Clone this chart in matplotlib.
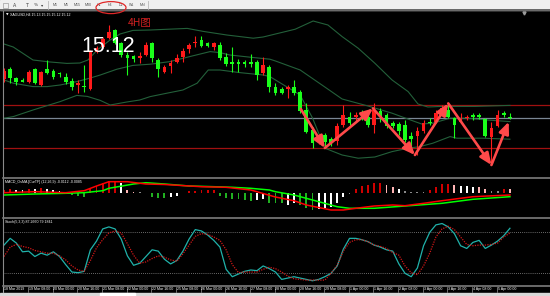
import matplotlib
matplotlib.use('Agg')
import matplotlib.pyplot as plt
from matplotlib.patches import Rectangle, Ellipse
import numpy as np

# ---- candles (H4, 18 Mar 2019 .. 5 Apr 2019), red = up, green = down ----
opens = [15.314, 15.365, 15.321, 15.310, 15.301, 15.365, 15.285, 15.363, 15.355, 15.343,
         15.326, 15.306, 15.285, 15.280, 15.263, 15.451, 15.476, 15.518, 15.560, 15.493,
         15.435, 15.430, 15.421, 15.435, 15.493, 15.410, 15.351, 15.381, 15.401, 15.426,
         15.463, 15.493, 15.510, 15.493, 15.473, 15.485, 15.426, 15.400, 15.400, 15.400,
         15.400, 15.398, 15.343, 15.376, 15.273, 15.265, 15.265, 15.273, 15.251, 15.160,
         15.060, 15.001, 15.035, 15.013, 15.006, 15.085, 15.123, 15.123, 15.146, 15.123,
         15.085, 15.156, 15.135, 15.093, 15.090, 15.085, 15.030, 15.030, 15.056, 15.101,
         15.101, 15.146, 15.160, 15.118, 15.101, 15.118, 15.135, 15.135, 15.113, 15.023,
         15.080, 15.146, 15.123]
highs = [15.370, 15.375, 15.326, 15.318, 15.360, 15.371, 15.356, 15.410, 15.363, 15.348,
         15.343, 15.318, 15.310, 15.385, 15.460, 15.480, 15.525, 15.585, 15.565, 15.500,
         15.450, 15.435, 15.451, 15.501, 15.501, 15.418, 15.385, 15.410, 15.440, 15.468,
         15.493, 15.530, 15.530, 15.498, 15.501, 15.501, 15.443, 15.476, 15.413, 15.410,
         15.440, 15.410, 15.426, 15.385, 15.296, 15.275, 15.285, 15.310, 15.260, 15.193,
         15.076, 15.040, 15.043, 15.025, 15.093, 15.185, 15.151, 15.151, 15.160, 15.160,
         15.193, 15.168, 15.143, 15.105, 15.101, 15.110, 15.051, 15.076, 15.110, 15.118,
         15.160, 15.185, 15.193, 15.126, 15.143, 15.135, 15.146, 15.146, 15.118, 15.101,
         15.160, 15.155, 15.143]
lows = [15.300, 15.295, 15.285, 15.298, 15.296, 15.290, 15.280, 15.340, 15.313, 15.326,
        15.290, 15.260, 15.243, 15.251, 15.260, 15.445, 15.470, 15.513, 15.490, 15.425,
        15.335, 15.400, 15.393, 15.430, 15.401, 15.326, 15.343, 15.343, 15.393, 15.401,
        15.446, 15.476, 15.476, 15.475, 15.460, 15.410, 15.380, 15.351, 15.351, 15.376,
        15.376, 15.310, 15.335, 15.251, 15.235, 15.240, 15.218, 15.235, 15.143, 15.043,
        14.968, 14.990, 14.968, 14.980, 14.985, 15.076, 15.085, 15.101, 15.110, 15.076,
        15.043, 15.101, 15.068, 15.068, 15.035, 15.001, 14.968, 14.935, 15.043, 15.085,
        15.093, 15.143, 15.120, 15.018, 15.093, 15.110, 15.110, 15.113, 15.023, 14.885,
        15.076, 15.126, 15.115]
closes = [15.356, 15.318, 15.301, 15.301, 15.351, 15.293, 15.351, 15.343, 15.326, 15.338,
          15.298, 15.273, 15.296, 15.273, 15.451, 15.468, 15.513, 15.551, 15.493, 15.435,
          15.418, 15.413, 15.430, 15.485, 15.421, 15.363, 15.376, 15.393, 15.421, 15.456,
          15.485, 15.501, 15.481, 15.481, 15.493, 15.418, 15.390, 15.391, 15.391, 15.391,
          15.391, 15.335, 15.385, 15.277, 15.243, 15.246, 15.273, 15.243, 15.156, 15.051,
          14.996, 15.026, 15.001, 14.996, 15.080, 15.135, 15.093, 15.135, 15.135, 15.085,
          15.160, 15.126, 15.080, 15.080, 15.056, 15.010, 15.013, 15.055, 15.093, 15.093,
          15.146, 15.170, 15.123, 15.085, 15.110, 15.126, 15.126, 15.126, 15.030, 15.068,
          15.135, 15.135, 15.118]

time_labels = ['18 Mar 2019', '19 Mar 08:00', '20 Mar 00:00', '20 Mar 16:00', '21 Mar 08:00',
               '22 Mar 00:00', '22 Mar 16:00', '25 Mar 08:00', '26 Mar 00:00', '26 Mar 16:00',
               '27 Mar 08:00', '28 Mar 00:00', '28 Mar 16:00', '29 Mar 08:00', '1 Apr 00:00',
               '1 Apr 16:00', '2 Apr 08:00', '3 Apr 00:00', '3 Apr 16:00', '4 Apr 08:00',
               '5 Apr 00:00']

# Bollinger bands (bar index, price)
bb_up_idx = [0, 1.5, 4.7, 7.5, 10.2, 12.3, 13.6, 15.1, 17.2, 18.8, 20.9, 23.7, 29.7, 32.3, 36.1,
             40.4, 42, 44, 47.2, 50.1, 52.5, 54.8, 57.4, 60.1, 62.9, 65.5, 67.1, 68.7, 71, 76.3, 82]
bb_up = [15.490, 15.475, 15.410, 15.400, 15.393, 15.395, 15.410, 15.460, 15.510, 15.540, 15.558,
         15.560, 15.568, 15.553, 15.535, 15.519, 15.525, 15.540, 15.564, 15.605, 15.585, 15.527,
         15.469, 15.394, 15.310, 15.252, 15.190, 15.175, 15.178, 15.178, 15.183]
bb_mid_idx = [0, 1.5, 4.7, 7, 9.1, 11.8, 13.9, 15.6, 18.3, 20.9, 23.7, 26.9, 30.1, 33.4, 35, 36.6,
              39.9, 43.1, 44, 48, 52, 54.8, 59, 62.9, 66.6, 67.7, 69.5, 72.3, 75, 78.3, 82]
bb_mid = [15.310, 15.294, 15.277, 15.277, 15.285, 15.302, 15.319, 15.335, 15.364, 15.383, 15.389,
          15.402, 15.427, 15.452, 15.447, 15.435, 15.424, 15.414, 15.405, 15.360, 15.275, 15.215,
          15.180, 15.144, 15.102, 15.090, 15.094, 15.119, 15.119, 15.110, 15.102]
bb_low_idx = [0, 1.5, 4.7, 9.1, 11.8, 13.5, 15.6, 17.2, 19.9, 22, 23.7, 26.4, 29, 31.3, 33.1, 35,
              38.2, 42, 43.1, 48, 50, 52, 54.8, 57.4, 60.1, 62.9, 65.5, 67.4, 69.5, 72.3, 73.4,
              77.6, 82]
bb_low = [15.119, 15.127, 15.160, 15.202, 15.233, 15.228, 15.208, 15.185, 15.200, 15.210, 15.227,
          15.244, 15.260, 15.294, 15.360, 15.360, 15.347, 15.335, 15.327, 15.235, 15.120, 14.969,
          14.935, 14.919, 14.925, 14.952, 14.969, 14.977, 14.994, 15.027, 15.019, 15.019, 15.014]

# hand drawn levels and zigzag arrows
resist_level = 15.185
support_level = 14.970
bid_price = 15.12
zigzag_idx = [48.1, 52.0, 59.8, 66.6, 72.0, 79.0, 81.8]
zigzag_price = [15.165, 14.970, 15.168, 14.935, 15.193, 14.885, 15.101]

# MACD_OsMA pane
osma = [0.0060, 0.0066, 0.0054, 0.0054, 0.0066, 0.0066, 0.0086, 0.0066, 0.0054, 0.0040,
        0.0020, -0.0046, -0.0066, -0.0080, 0.0066, 0.0134, 0.0200, 0.0240, 0.0240, 0.0200,
        0.0054, 0.0020, 0.0014, -0.0010, -0.0080, -0.0114, -0.0114, -0.0094, -0.0066, -0.0014,
        0.0040, 0.0030, 0.0054, 0.0050, 0.0050, -0.0066, -0.0114, -0.0134, -0.0134, -0.0146,
        -0.0160, -0.0146, -0.0134, -0.0214, -0.0214, -0.0214, -0.0246, -0.0214, -0.0246, -0.0314,
        -0.0346, -0.0334, -0.0314, -0.0280, -0.0214, -0.0080, -0.0026, 0.0074, 0.0134, 0.0154,
        0.0186, 0.0200, 0.0154, 0.0106, 0.0066, 0.0034, 0.0020, 0.0014, 0.0014, 0.0054,
        0.0120, 0.0174, 0.0174, 0.0154, 0.0134, 0.0134, 0.0120, 0.0106, 0.0066, 0.0040,
        0.0034, 0.0066, 0.0066]
osma_state = list('RRWWRWRWWWPGGGRRRRRWPPNNGGGWWNRRRRRGGGGGGWWGGGWWGGGWWWWWNRRRRRPPWNNNNRRRRPWWWPPNNRP')
macd_green_idx = [0, 5, 10, 13, 16, 17, 21, 23, 26, 30, 34, 37, 40, 43, 44, 47, 50, 54, 56, 60,
                  65, 71, 76, 82]
macd_green = [-0.0046, -0.0026, -0.0012, 0.0, 0.0040, 0.0088, 0.0174, 0.0200, 0.0174, 0.0134,
              0.0120, 0.0108, 0.0088, 0.0054, 0.0020, -0.0046, -0.0146, -0.0280, -0.0312, -0.0312,
              -0.0266, -0.0212, -0.0132, -0.0080]
macd_red_idx = [0, 5, 10, 13, 15, 17, 20, 23, 26, 32, 36, 40, 44, 47, 49, 53, 55, 57, 60, 63,
                65, 68, 71, 74, 76, 82]
macd_red = [0.0, 0.0020, 0.0, 0.0040, 0.0134, 0.0220, 0.0220, 0.0174, 0.0164, 0.0120, 0.0108,
            0.0054, -0.0086, -0.0160, -0.0246, -0.0346, -0.0346, -0.0312, -0.0266, -0.0246,
            -0.0260, -0.0212, -0.0160, -0.0112, -0.0080, -0.0046]

# Stochastic pane
stoch_main = [61, 71, 64, 51, 52, 44, 49, 46, 51, 44, 32, 21, 20, 22, 54, 67, 85, 88, 85, 70,
              45, 31, 34, 44, 54, 52, 40, 33, 38, 52, 70, 84, 82, 76, 68, 58, 25, 14, 18, 22,
              24, 23, 30, 26, 21, 10, 12, 14, 12, 10, 8, 10, 14, 19, 30, 55, 71, 71, 69, 66,
              61, 58, 54, 52, 33, 19, 14, 27, 60, 80, 91, 93, 88, 78, 60, 56, 65, 68, 56, 61,
              67, 75, 86]
stoch_signal = [44, 58, 62, 59, 57, 53, 51, 49, 49, 45, 39, 30, 24, 22, 38, 57, 69, 79, 82, 79,
                63, 46, 34, 36, 41, 45, 43, 39, 37, 48, 61, 74, 78, 77, 73, 68, 54, 32, 20, 21,
                21, 21, 25, 28, 26, 21, 15, 11, 10, 9, 9, 9, 9, 19, 31, 52, 65, 69, 69, 66,
                61, 59, 56, 50, 46, 30, 20, 17, 30, 49, 73, 85, 89, 84, 73, 62, 60, 61, 61, 62,
                64, 73, 79]

tf_buttons = ['M1', 'M5', 'M15', 'M30', 'H1', 'H4', 'D1', 'W1', 'MN']

W, H = 550, 296
fig = plt.figure(figsize=(5.5, 2.96), dpi=100, facecolor='black')
small = dict(fontsize=2.6, family=['Liberation Sans', 'DejaVu Sans'])


def rect(x0, y0, x1, y1):
    # pixel box (top-left origin) -> figure fraction
    return [x0 / W, 1 - y1 / H, (x1 - x0) / W, (y1 - y0) / H]


# bar i sits at pixel 4 + 6.17*i, axes start at pixel 3 and end at 550
step = 6.17
xlim = (-1 / step, 546 / step)
idx = np.arange(len(opens))

# ---- main chart ----
ax = fig.add_axes(rect(3, 11, 550, 176.5))
ax.set_facecolor('black')
ax.set_xlim(*xlim)
ax.set_ylim(14.8275, 15.655)
ax.axis('off')

ax.axhline(resist_level, color='#a01010', lw=0.9)
ax.axhline(support_level, color='#a01010', lw=0.9)
ax.axhline(bid_price, color='#7a8694', lw=0.9)

band_col = '#23603a'
ax.plot(bb_up_idx, bb_up, color=band_col, lw=0.8)
ax.plot(bb_mid_idx, bb_mid, color=band_col, lw=0.8)
ax.plot(bb_low_idx, bb_low, color=band_col, lw=0.8)

o = np.array(opens)
c = np.array(closes)
up = c >= o
cols = np.where(up, '#ff1a1a', '#1aff1a')
ax.vlines(idx, lows, highs, colors=cols, lw=0.8, zorder=3)
body = np.maximum(np.abs(c - o), 0.0015)
ax.bar(idx, body, bottom=np.minimum(o, c), width=0.6, color=cols, zorder=4)

for k in range(len(zigzag_idx) - 1):
    ax.annotate('', xy=(zigzag_idx[k + 1], zigzag_price[k + 1]),
                xytext=(zigzag_idx[k], zigzag_price[k]),
                arrowprops=dict(arrowstyle='-|>,head_length=0.7,head_width=0.3',
                                color='#ff4a4a', lw=1.9, shrinkA=0, shrinkB=0),
                zorder=6)

# ---- MACD_OsMA ----
am = fig.add_axes(rect(3, 178.5, 550, 217))
am.set_facecolor('black')
am.set_xlim(*xlim)
am.set_ylim(-0.0486, 0.0284)
am.axis('off')
state_col = {'R': '#d00000', 'W': '#ffffff', 'P': '#ffb4b4', 'G': '#20b020', 'N': '#8a8a8a'}
am.bar(idx, osma, width=0.3, color=[state_col[s] for s in osma_state])
am.plot(macd_green_idx, macd_green, color='#00ff00', lw=1.1)
am.plot(macd_red_idx, macd_red, color='#ff0000', lw=1.1)

# ---- Stochastic ----
ast = fig.add_axes(rect(3, 219.5, 550, 285))
ast.set_facecolor('black')
ast.set_xlim(*xlim)
ast.set_ylim(1.7, 99.0)
ast.axis('off')
ast.axhline(80, color='#8c8c8c', lw=0.6, ls=(0, (1, 1.5)))
ast.axhline(20, color='#8c8c8c', lw=0.6, ls=(0, (1, 1.5)))
ast.plot(idx, stoch_main, color='#20b2aa', lw=0.9)
ast.plot(idx, stoch_signal, color='#d01818', lw=0.9, ls=(0, (1, 1)))

# ---- window chrome in pixel coordinates ----
ov = fig.add_axes([0, 0, 1, 1], facecolor='none')
ov.set_xlim(0, W)
ov.set_ylim(H, 0)
ov.axis('off')

# toolbar
ov.add_patch(Rectangle((0, 0), W, 10, color='#f0f0f0', zorder=1))
ov.plot([0, W], [10.3, 10.3], color='#505050', lw=1.2)
for xx in [48, 148]:
    ov.plot([xx, xx], [1, 9], color='#b8b8b8', lw=0.6)
ov.add_patch(Rectangle((3, 2.5), 5, 5, fill=False, ec='#8a8a8a', lw=0.4))
ov.text(15, 5.5, 'A', fontsize=3.4, color='#404040', ha='center', va='center')
ov.text(27, 5.5, 'T', fontsize=3.4, color='#404040', ha='center', va='center')
ov.text(36, 5.5, '%', fontsize=3.2, color='#404040', ha='center', va='center')
ov.text(42, 5.5, '▾', fontsize=3.2, color='#404040', ha='center', va='center')
for k, lab in enumerate(tf_buttons):
    ov.text(55 + 11 * k, 5.5, lab, color='#505050', ha='center', va='center', **small)
ov.add_patch(Ellipse((111, 7.6), 30, 12, fill=False, ec='#e02828', lw=0.9, zorder=5))

# pane borders
ov.plot([2.8, 2.8], [11, 292], color='#8a8a8a', lw=0.8)
for yy in [177.5, 218.3, 285.8]:
    ov.plot([3, W], [yy, yy], color='#7c7c7c', lw=1.2)

# titles
ov.text(7, 14.2, '▼', fontsize=2.4, color='white', ha='center', va='center')
ov.text(9.5, 14.2, 'XAGUSD,H4 15.13 15.15 15.12 15.12', color='white', va='center', **small)
ov.text(5, 181.8, 'MACD_OsMA [CurTF] (12,26,9) -0.0112 -0.0085', color='white',
        va='center', **small)
ov.text(5, 221.8, 'Stoch(5,3,3) 87.2660 79.1841', color='white', va='center', **small)
ov.plot([524], [12.5], marker='v', color='#9a9a9a', ms=2.2)

# annotations written on the chart
ov.text(81, 46.5, '15.12', fontsize=15.5, color='white', va='center', family='Liberation Sans')
ov.text(128, 23, '4H图', fontsize=7.5, color='#d02020', va='center',
        family=['Noto Sans CJK SC', 'DejaVu Sans'])

# time axis
for k, lab in enumerate(time_labels):
    px = 4 + step * 4 * k
    ov.plot([px - 0.8, px - 0.8], [286.5, 291.5], color='#bdbdbd', lw=0.4)
    ov.text(px, 289.2, lab, color='white', va='center', **small)

# bottom strip with sheet tab
ov.add_patch(Rectangle((0, 292.5), W, 4, color='#d8d8d8', zorder=1))
ov.add_patch(Rectangle((100, 292.5), 35, 4, color='white', zorder=2))

fig.savefig('out.png', dpi=100, facecolor='black')
